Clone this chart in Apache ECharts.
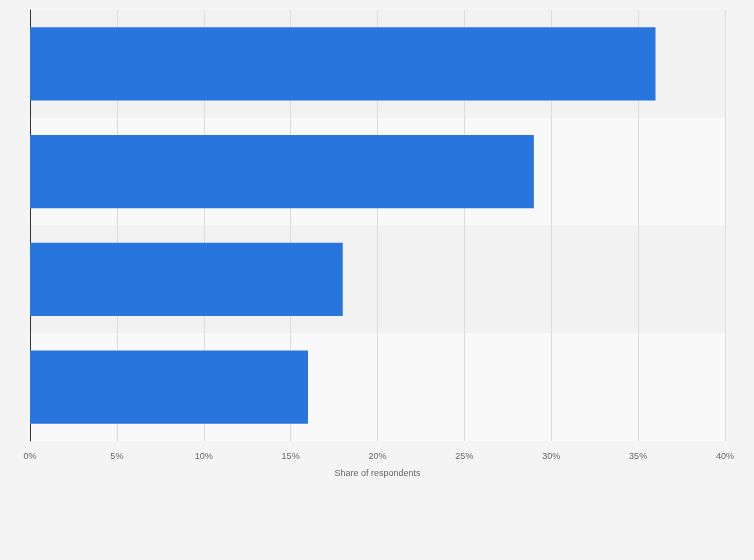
<!DOCTYPE html>
<html><head><meta charset="utf-8">
<script src="https://cdn.jsdelivr.net/npm/echarts@6/dist/echarts.min.js"></script>
<style>html,body{margin:0;padding:0;background:#f4f4f4}#c{width:754px;height:560px}</style>
</head><body><div id="c"></div>
<script>
const categories = ['A', 'B', 'C', 'D'];
const values = [36, 29, 18, 16];
const xTicks = [0, 5, 10, 15, 20, 25, 30, 35, 40];

const chart = echarts.init(document.getElementById('c'));
chart.setOption({
  backgroundColor: '#f4f4f4',
  grid: { left: 30, right: 29, top: 10, bottom: 119, containLabel: false },
  xAxis: {
    type: 'value', min: 0, max: 40, interval: 5,
    name: 'Share of respondents', nameLocation: 'middle', nameGap: 28,
    nameTextStyle: { color: '#666', fontSize: 9, fontFamily: 'Arial, Liberation Sans' },
    axisLabel: { formatter: v => v + '%', color: '#666', fontSize: 9, margin: 11, fontFamily: 'Arial, Liberation Sans' },
    splitLine: { show: true, lineStyle: { color: '#dcdcdc' } },
    axisLine: { show: false }, axisTick: { show: false }
  },
  yAxis: {
    type: 'category', data: categories, inverse: true,
    axisLabel: { show: false }, axisTick: { show: false },
    axisLine: { show: true, lineStyle: { color: '#333' } },
    splitArea: { show: true, areaStyle: { color: ['#f2f2f2', '#f9f9f9'] } }
  },
  series: [{
    type: 'bar', data: values, barWidth: '68%',
    itemStyle: { color: '#2876dd' }
  }]
});
</script></body></html>
